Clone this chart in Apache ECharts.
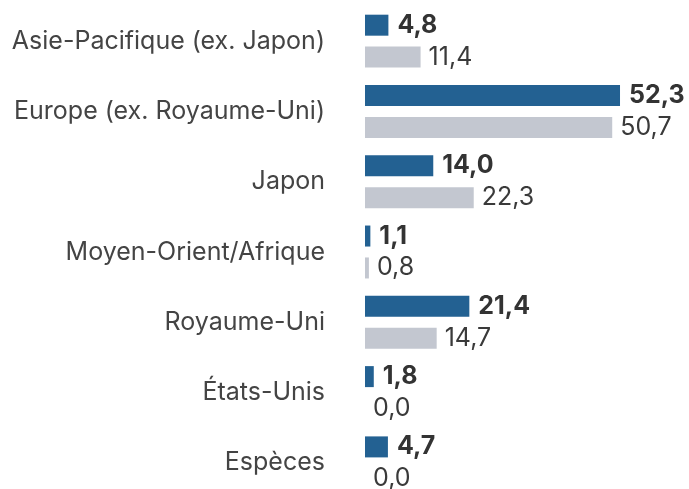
<!DOCTYPE html>
<html><head><meta charset="utf-8">
<script src="https://cdn.jsdelivr.net/npm/echarts@6/dist/echarts.min.js"></script>
<style>html,body{margin:0;padding:0;background:#fff;overflow:hidden}#c{width:689px;height:505px}</style>
</head><body><div id="c"></div>
<script>
const categories = ["Asie-Pacifique (ex. Japon)","Europe (ex. Royaume-Uni)","Japon","Moyen-Orient/Afrique","Royaume-Uni","États-Unis","Espèces"];
const seriesA = [4.8, 52.3, 14.0, 1.1, 21.4, 1.8, 4.7];
const seriesB = [11.4, 50.7, 22.3, 0.8, 14.7, 0.0, 0.0];
const fmt = p => p.value.toFixed(1).replace('.', ',');
const chart = echarts.init(document.getElementById('c'), null, {renderer:'canvas'});
chart.setOption({
  animation:false,
  grid:{left:365, top:6, width:300, height:492, containLabel:false},
  xAxis:{type:'value', min:0, max:300/4.876, show:false},
  yAxis:{type:'category', inverse:true, data:categories,
    axisLine:{show:false}, axisTick:{show:false}, splitLine:{show:false},
    axisLabel:{margin:40, fontFamily:'Inter', fontSize:25, color:'#444'}},
  series:[
    {type:'bar', data:seriesA, barWidth:21, barGap:'52%', itemStyle:{color:'#236192'},
     label:{show:true, position:'right', distance:9, formatter:fmt, fontFamily:'Inter', fontSize:25, fontWeight:'bold', color:'#333'}},
    {type:'bar', data:seriesB, barWidth:21, itemStyle:{color:'#c3c7d0'},
     label:{show:true, position:'right', distance:8, formatter:fmt, fontFamily:'Inter', fontSize:25, color:'#3a3a3a'}}
  ]
});
</script></body></html>
